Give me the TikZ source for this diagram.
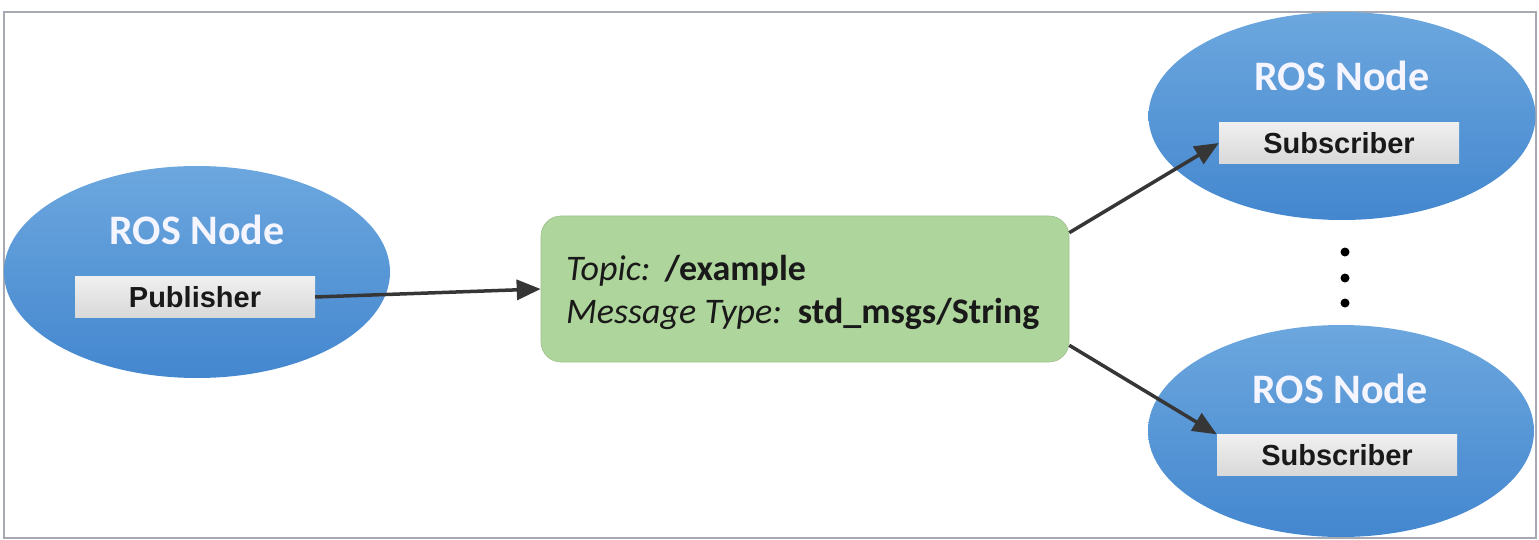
\documentclass[tikz,border=0pt]{standalone}
\usepackage{fontspec}
\setmainfont{Carlito}
\newfontfamily\rolefont{Liberation Sans}
\usetikzlibrary{shapes.geometric,arrows.meta}
\definecolor{rosTop}{HTML}{6CA7DE}
\definecolor{rosBot}{HTML}{4487CF}
\definecolor{topicGreen}{HTML}{AED59B}
\definecolor{linkGray}{HTML}{363636}
\definecolor{frameGray}{HTML}{A6A9B1}
\tikzset{rosnode/.style={ellipse, minimum width=386pt, minimum height=212pt, inner sep=0pt, top color=rosTop, bottom color=rosBot},
  rostitle/.style={anchor=base, text=white!96!blue, inner sep=0pt, font=\bfseries\fontsize{42}{42}\selectfont},
  rolebox/.style={minimum width=240pt, minimum height=41pt, inner sep=0pt, top color=gray!12, bottom color=gray!30, text=black!90, font=\rolefont\bfseries\fontsize{29}{29}\selectfont},
  topicbox/.style={rounded corners=20pt, fill=topicGreen, draw=topicGreen!90!black, line width=0.6pt, minimum width=528pt, minimum height=146pt, inner sep=0pt},
  topictext/.style={anchor=base west, inner sep=0pt, text=black!90, font=\fontsize{36}{36}\selectfont},
  link/.style={draw=linkGray, line width=3.5pt, -{Triangle[length=24pt,width=20pt]}}}

\begin{document}
\begin{tikzpicture}[x=1pt,y=-1pt]
   \useasboundingbox (0,0) rectangle (1539,540);
   \draw[frameGray, line width=2.5pt] (4,12) rectangle (1536,538);

   \node[rosnode] (pub) at (197,272) {};
   \node[rostitle] (pubtitle) at (197,244) {ROS Node};
   \node[rolebox] (pubbox) at (195,297) {Publisher};

   \node[rosnode, minimum width=387pt, minimum height=208pt] (subA) at (1342,116) {};
   \node[rostitle] (subAtitle) at (1342,91) {ROS Node};
   \node[rolebox] (subAbox) at (1339,143) {Subscriber};

   \node[rosnode] (subB) at (1341,431) {};
   \node[rostitle] (subBtitle) at (1340,403) {ROS Node};
   \node[rolebox] (subBbox) at (1337,455) {Subscriber};

   \node[topicbox] (topic) at (805,289) {};
   \node[topictext] (topicname) at (566,280) {\textit{Topic:}\hspace{14pt}\textbf{/example}};
   \node[topictext] (topictype) at (566,323) {\textit{Message Type:}\hspace{16pt}\textbf{std\_msgs/String}};

   \foreach \y in {252,278,303}
      \fill[black] (1345,\y) circle (4.5pt);

   \draw[link] (pubbox.east) -- (topic.west);
   \draw[link] ([yshift=-17pt]topic.north east) -- (subAbox.west);
   \draw[link] ([yshift=17pt]topic.south east) -- (subBbox.north west);
\end{tikzpicture}
\end{document}
